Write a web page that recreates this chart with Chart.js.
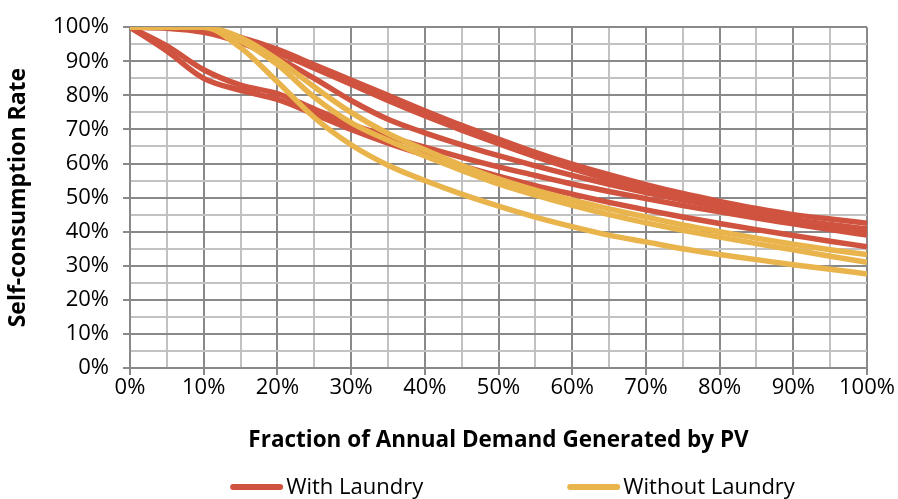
<!DOCTYPE html>
<html>
<head>
<meta charset="utf-8">
<script src="https://cdn.jsdelivr.net/npm/chart.js@4/dist/chart.umd.min.js"></script>
<style>
  html, body { margin: 0; padding: 0; background: #fff; }
  #chart { display: block; }
</style>
</head>
<body>
<canvas id="chart" width="898" height="499"></canvas>
<script>
// x: fraction of annual demand generated by PV (%)
const fractionPV = [0, 5, 10, 15, 20, 25, 30, 35, 40, 45, 50, 55, 60, 65, 70, 75, 80, 85, 90, 95, 100];

// self-consumption rate (%) - with laundry
const withLaundry1 = [100, 100, 99.5, 97, 93.5, 89, 84.5, 80, 75.5, 71.2, 67.2, 63.3, 59.8, 56.7, 53.8, 51.2, 48.9, 46.8, 45, 43.7, 42.5];
const withLaundry2 = [100, 100, 99.3, 96.5, 92.5, 88, 83.3, 78.5, 74, 69.8, 65.8, 62, 58.5, 55.3, 52.4, 49.8, 47.5, 45.4, 43.6, 42.1, 40.8];
const withLaundry3 = [100, 99.7, 98.5, 95.5, 91, 85, 78.5, 73, 69, 65.5, 62.3, 59.3, 56.5, 53.9, 51.5, 49.3, 47.2, 45.2, 43.3, 41.6, 40];
const withLaundry4 = [100, 94.5, 87.5, 83, 80.5, 76, 71.5, 68, 64.8, 61.8, 59, 56.5, 54, 51.8, 49.7, 47.7, 45.8, 44, 42.3, 40.6, 39];
const withLaundry5 = [100, 93, 85, 81.5, 78.8, 74.5, 70, 66, 62.5, 59.3, 56.3, 53.5, 51, 48.6, 46.4, 44.3, 42.4, 40.6, 38.9, 37.2, 35.6];

// self-consumption rate (%) - without laundry
const withoutLaundry1 = [100, 100, 100, 97, 90.5, 82.5, 75, 68.8, 64, 59.5, 55.5, 52.2, 49.3, 46.7, 44.3, 42, 40, 38.1, 36.3, 34.7, 33.3];
const withoutLaundry2 = [100, 100, 100, 96, 89, 79.5, 72, 66.8, 62.2, 58, 54, 50.7, 47.7, 45, 42.6, 40.4, 38.4, 36.5, 34.7, 32.8, 31];
const withoutLaundry3 = [100, 100, 100, 94, 84, 73.5, 65.5, 59.5, 55, 51, 47.5, 44.3, 41.5, 39, 37, 35, 33.3, 31.8, 30.3, 29, 27.6];

const yTicks = [0, 10, 20, 30, 40, 50, 60, 70, 80, 90, 100];

const RED = '#CF533F';
const YELLOW = '#E9B44C';
const FONT = '"Open Sans", "Noto Sans", sans-serif';

function toPoints(values) {
    return values.map((v, i) => ({ x: fractionPV[i], y: v }));
}

function series(label, values, color) {
    return {
        label: label,
        data: toPoints(values),
        borderColor: color,
        backgroundColor: color,
        borderWidth: 5.5,
        pointRadius: 0,
        fill: false,
        cubicInterpolationMode: 'monotone'
    };
}

// yellow first so it is drawn above the red lines
const datasets = [
    series('Without Laundry', withoutLaundry1, YELLOW),
    series('Without Laundry', withoutLaundry2, YELLOW),
    series('Without Laundry', withoutLaundry3, YELLOW),
    series('With Laundry', withLaundry1, RED),
    series('With Laundry', withLaundry2, RED),
    series('With Laundry', withLaundry3, RED),
    series('With Laundry', withLaundry4, RED),
    series('With Laundry', withLaundry5, RED)
];

const legendItems = [
    { text: 'With Laundry', color: RED },
    { text: 'Without Laundry', color: YELLOW }
];

// simple legend under the x axis title, like the excel one
const bottomLegend = {
    id: 'bottomLegend',
    afterDraw(chart) {
        const ctx = chart.ctx;
        const area = chart.chartArea;
        const lineLen = 53, gap = 3, spacing = 144;
        ctx.save();
        ctx.font = '22px ' + FONT;
        ctx.textBaseline = 'middle';
        ctx.textAlign = 'left';
        const widths = legendItems.map(it => lineLen + gap + ctx.measureText(it.text).width);
        const total = widths.reduce((a, b) => a + b, 0) + spacing;
        let x = (area.left + area.right) / 2 - total / 2 + 14;
        const y = chart.height - 12;
        legendItems.forEach((it, i) => {
            ctx.strokeStyle = it.color;
            ctx.lineWidth = 6;
            ctx.lineCap = 'round';
            ctx.beginPath();
            ctx.moveTo(x + 3, y);
            ctx.lineTo(x + lineLen - 3, y);
            ctx.stroke();
            ctx.fillStyle = '#000';
            ctx.fillText(it.text, x + lineLen + gap, y + 1);
            x += widths[i] + spacing;
        });
        ctx.restore();
    }
};

const majorGrid = '#898989';
const minorGrid = '#c2c2c2';

new Chart(document.getElementById('chart'), {
    type: 'line',
    data: { datasets: datasets },
    plugins: [bottomLegend],
    options: {
        responsive: false,
        animation: false,
        devicePixelRatio: 1,
        layout: { padding: { left: 0, right: 31, top: 24, bottom: 0 } },
        plugins: {
            legend: { display: false },
            tooltip: { enabled: false }
        },
        scales: {
            x: {
                type: 'linear',
                min: 0,
                max: 100,
                afterFit: (scale) => { scale.height = 131; },
                ticks: {
                    stepSize: 5,
                    autoSkip: false,
                    maxRotation: 0,
                    padding: 0,
                    color: '#000',
                    font: { family: FONT, size: 22 },
                    callback: (v) => (v % 10 === 0 ? v + '%' : '')
                },
                grid: {
                    color: (c) => (c.tick && c.tick.value % 10 === 0 ? majorGrid : minorGrid),
                    tickColor: (c) => (c.tick && c.tick.value % 10 === 0 ? majorGrid : 'rgba(0,0,0,0)'),
                    lineWidth: 2,
                    tickLength: 7
                },
                border: { color: majorGrid, width: 2 },
                title: {
                    display: true,
                    text: 'Fraction of Annual Demand Generated by PV',
                    color: '#000',
                    font: { family: FONT, size: 22.5, weight: 'bold' },
                    padding: { top: 0, bottom: 45 }
                }
            },
            y: {
                min: 0,
                max: 100,
                afterFit: (scale) => { scale.width = 130; },
                afterBuildTicks: (scale) => {
                    const minor = [];
                    for (let v = 0; v <= 100; v += 5) minor.push({ value: v });
                    scale.ticks = minor;
                },
                ticks: {
                    autoSkip: false,
                    padding: 14,
                    color: '#000',
                    font: { family: FONT, size: 22 },
                    callback: (v) => (yTicks.includes(v) ? v + '%' : '')
                },
                grid: {
                    color: (c) => (c.tick && c.tick.value % 10 === 0 ? majorGrid : minorGrid),
                    tickColor: (c) => (c.tick && c.tick.value % 10 === 0 ? majorGrid : 'rgba(0,0,0,0)'),
                    lineWidth: 2,
                    tickLength: 7
                },
                border: { color: majorGrid, width: 2 },
                title: {
                    display: true,
                    text: 'Self-consumption Rate',
                    color: '#000',
                    font: { family: FONT, size: 23, weight: 'bold' },
                    padding: { top: 5, bottom: 0 }
                }
            }
        }
    }
});
</script>
</body>
</html>
